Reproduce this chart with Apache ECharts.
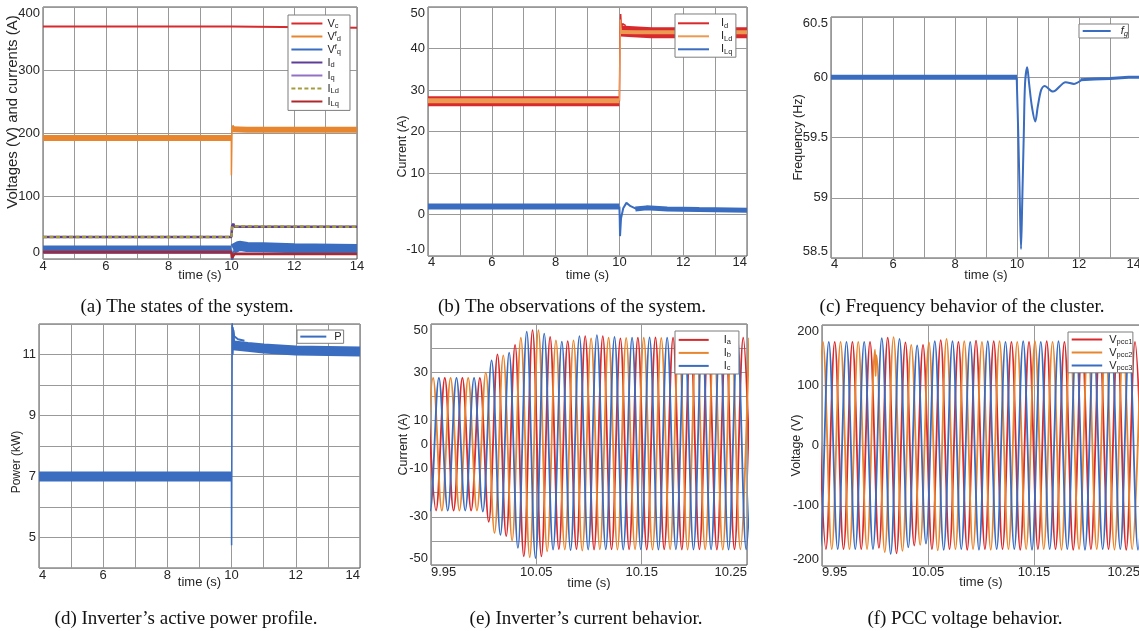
<!DOCTYPE html>
<html>
<head>
<meta charset="utf-8">
<script src="https://cdn.jsdelivr.net/npm/echarts@6/dist/echarts.min.js"></script>
<style>
html, body { margin: 0; padding: 0; background: #fff; }
#chart { width: 1139px; height: 631px; }
</style>
</head>
<body>
<div id="chart"></div>
<script>
// (a) states of the system, [time, value]
const aVc = [[4, 369], [10, 369], [10.03, 367], [14, 367]];
const aVdPre = [[4, 192], [10, 192]];
const aVdJump = [[9.998, 192], [10.0, 133], [10.02, 207], [10.05, 212], [10.1, 207], [10.2, 205]];
const aVdPost = [[10.03, 206], [10.5, 205], [14, 205]];
const aVqPre = [[4, 15], [10, 15]];
const aVqJump = [[10, 15], [10.02, -4], [10.08, 12], [10.2, 22]];
const aVqPost = [[10.05, 16], [10.25, 21], [10.5, 19], [11, 18.5], [12, 17], [14, 16]];
const aId = [[4, 35], [10, 35], [10.02, 52], [10.06, 56], [10.1, 51], [14, 51]];
const aIq = [[4, 9], [10, 9], [10.03, 4], [10.1, 9], [14, 9]];
const aILd = [[4, 35], [10, 35], [10.03, 52], [10.08, 51], [14, 51]];
const aILq = [[4, 11], [10, 11], [10.02, 2], [10.1, 8], [14, 8]];

// (b) observations
const bIdPre = [[4, 27.3], [10, 27.3]];
const bIdJump = [[10, 27.3], [10.02, 44], [10.04, 48.3], [10.06, 45], [10.1, 46], [10.2, 45.5]];
const bIdPost = [[10.05, 44.2], [10.3, 44.1], [11, 43.8], [14, 43.8]];
const bILdPre = [[4, 27.4], [10, 27.4]];
const bILdJump = [[10, 27.4], [10.01, 33], [10.03, 47], [10.06, 44]];
const bILdPost = [[10.05, 44], [10.5, 43.9], [14, 43.9]];
const bILqPre = [[4, 1.9], [10, 1.9]];
const bILqJump = [[10, 1.9], [10.01, -1], [10.02, -5.2], [10.05, -1], [10.12, 1.5], [10.22, 2.8], [10.35, 2.0], [10.55, 1.3], [10.85, 1.65], [11.2, 1.4]];
const bILqPost = [[10.5, 1.3], [10.85, 1.6], [11.5, 1.35], [12.5, 1.2], [14, 1.0]];

// (c) frequency
const cFgPre = [[4, 60.0], [10, 60.0]];
const cFgDip = [[9.99, 60.0], [10.04, 59.54], [10.09, 58.98], [10.13, 58.575], [10.17, 58.98], [10.22, 59.54], [10.26, 59.95], [10.33, 60.083], [10.39, 59.95], [10.48, 59.757], [10.59, 59.633], [10.67, 59.757], [10.78, 59.895], [10.89, 59.928], [11.16, 59.881], [11.57, 59.959], [11.84, 59.945], [12.11, 59.983]];
const cFgPost = [[12.05, 59.98], [12.5, 59.985], [13, 59.99], [13.6, 60.0], [14, 60.0]];

// (d) active power
const dPPre = [[4, 7.0], [10, 7.0]];
const dPJump = [[9.995, 7.0], [10.0, 4.75], [10.02, 12.05], [10.04, 11.0], [10.06, 11.8], [10.1, 11.2], [10.15, 11.4]];
const dPTop = [[10.03, 11.9], [10.08, 11.6], [10.2, 11.5], [10.4, 11.45]];
const dPPost = [[10.05, 11.3], [10.5, 11.25], [11, 11.2], [12, 11.13], [14, 11.1]];

// (e) inverter currents, peaks and troughs
const eIa = [[9.9464, 27.6], [9.9548, -27.4], [9.9631, 27.6], [9.9714, -27.4], [9.9798, 27.6], [9.9881, -27.4], [9.9964, 27.6], [10.0048, -32.1], [10.0131, 37.4], [10.0214, -38.0], [10.0298, 41.3], [10.0381, -46.4], [10.0464, 47.5], [10.0548, -46.4], [10.0631, 44.6], [10.0714, -43.4], [10.0798, 42.9], [10.0881, -43.4], [10.0964, 45.0], [10.1048, -43.6], [10.1131, 45.0], [10.1214, -43.5], [10.1298, 44.0], [10.1381, -43.5], [10.1464, 44.3], [10.1548, -43.6], [10.1631, 44.4], [10.1714, -43.5], [10.1798, 44.3], [10.1881, -43.6], [10.1964, 44.2], [10.2048, -43.5], [10.2131, 44.3], [10.2214, -43.6], [10.2298, 44.2], [10.2381, -43.5], [10.2464, 44.3], [10.2548, -43.6]];
const eIb = [[9.9436, -27.4], [9.9520, 27.6], [9.9603, -27.4], [9.9686, 27.6], [9.9770, -27.4], [9.9853, 27.6], [9.9936, -27.4], [10.0020, 29.8], [10.0103, -36.7], [10.0186, 37.0], [10.0270, -39.9], [10.0353, 44.3], [10.0437, -46.8], [10.0520, 47.4], [10.0603, -44.3], [10.0686, 43.2], [10.0770, -43.6], [10.0853, 43.2], [10.0936, -44.0], [10.1020, 44.0], [10.1103, -43.5], [10.1186, 44.3], [10.1270, -43.6], [10.1353, 44.2], [10.1437, -43.5], [10.1520, 44.3], [10.1603, -43.6], [10.1686, 44.2], [10.1770, -43.5], [10.1853, 44.3], [10.1936, -43.6], [10.2020, 44.2], [10.2103, -43.5], [10.2186, 44.3], [10.2270, -43.6], [10.2353, 44.2], [10.2437, -43.5], [10.2520, 44.3]];
const eIc = [[9.9409, 27.6], [9.9492, -27.4], [9.9575, 27.6], [9.9659, -27.4], [9.9742, 27.6], [9.9825, -27.4], [9.9909, 27.6], [9.9992, -27.8], [10.0075, 34.9], [10.0159, -37.5], [10.0242, 38.1], [10.0325, -42.9], [10.0409, 46.8], [10.0492, -47.1], [10.0575, 46.0], [10.0659, -43.6], [10.0742, 42.7], [10.0825, -43.8], [10.0909, 45.0], [10.0992, -43.6], [10.1075, 45.4], [10.1159, -43.5], [10.1242, 44.6], [10.1325, -43.6], [10.1409, 44.3], [10.1492, -43.5], [10.1575, 44.4], [10.1659, -43.6], [10.1742, 44.3], [10.1825, -43.5], [10.1909, 44.2], [10.1992, -43.6], [10.2075, 44.3], [10.2159, -43.5], [10.2242, 44.2], [10.2325, -43.6], [10.2409, 44.3], [10.2492, -43.5], [10.2575, 44.2]];

// (f) PCC voltages, peaks and troughs
const fV1 = [[9.9453, 172], [9.9537, -172], [9.9620, 172], [9.9703, -172], [9.9787, 172], [9.9870, -172], [9.9953, 172], [10.0037, -170], [10.0120, 179], [10.0203, -179], [10.0287, 171], [10.0370, -166], [10.0453, 167], [10.0537, -172], [10.0620, 175], [10.0703, -172], [10.0787, 172], [10.0870, -173], [10.0953, 174], [10.1037, -172], [10.1120, 173], [10.1203, -172], [10.1287, 172], [10.1370, -173], [10.1453, 172], [10.1537, -172], [10.1620, 173], [10.1703, -172], [10.1787, 172], [10.1870, -173], [10.1953, 172], [10.2037, -172], [10.2120, 173], [10.2203, -172], [10.2287, 172], [10.2370, -173], [10.2453, 172], [10.2537, -172]];
const fV2 = [[9.9425, -172], [9.9509, 172], [9.9592, -172], [9.9675, 172], [9.9759, -172], [9.9842, 172], [9.9925, -172], [10.0000, 159], [10.0006, 115], [10.0013, 150], [10.0092, -177], [10.0175, 180], [10.0259, -175], [10.0342, 167], [10.0426, -165], [10.0509, 171], [10.0592, -174], [10.0675, 177], [10.0759, -172], [10.0842, 173], [10.0925, -172], [10.1009, 172], [10.1092, -173], [10.1175, 173], [10.1259, -172], [10.1342, 172], [10.1426, -172], [10.1509, 173], [10.1592, -172], [10.1675, 172], [10.1759, -173], [10.1842, 172], [10.1925, -172], [10.2009, 173], [10.2092, -172], [10.2175, 172], [10.2259, -173], [10.2342, 172], [10.2426, -172], [10.2509, 173]];
const fV3 = [[9.9398, 172], [9.9481, -172], [9.9564, 172], [9.9648, -172], [9.9731, 172], [9.9814, -172], [9.9898, 172], [9.9981, -172], [10.0064, 178], [10.0148, -180], [10.0231, 177], [10.0314, -169], [10.0398, 166], [10.0481, -163], [10.0564, 173], [10.0648, -173], [10.0731, 173], [10.0814, -172], [10.0898, 172], [10.0981, -173], [10.1064, 173], [10.1148, -172], [10.1231, 172], [10.1314, -172], [10.1398, 173], [10.1481, -173], [10.1564, 172], [10.1648, -172], [10.1731, 173], [10.1814, -172], [10.1898, 172], [10.1981, -173], [10.2064, 172], [10.2148, -172], [10.2231, 173], [10.2314, -172], [10.2398, 172], [10.2481, -173], [10.2564, 172]];

const captions = [
  '(a) The states of the system.', '(b) The observations of the system.', '(c) Frequency behavior of the cluster.',
  '(d) Inverter\u2019s active power profile.', '(e) Inverter\u2019s current behavior.', '(f) PCC voltage behavior.'
];

const SANS = '"Liberation Sans", Arial, Helvetica, sans-serif';
const SERIF = '"Liberation Serif", "Times New Roman", serif';
const INK = '#262626';
const GRIDC = '#999999';
const RED = '#d8292c', ORANGE = '#e8852f', LORANGE = '#ec9a52', BLUE = '#3a6cc0';
const PURPLE = '#5e3c99', LPURPLE = '#9270c4', OLIVE = '#a39b3c', DRED = '#b0262a';

const LABELS = {
  'a:Vc': 'V{s|c}', 'a:Vd': 'V{p|f}{s|d}', 'a:Vq': 'V{p|f}{s|q}', 'a:Id': 'I{s|d}', 'a:Iq': 'I{s|q}',
  'a:ILd': 'I{s|Ld}', 'a:ILq': 'I{s|Lq}',
  'b:Id': 'I{s|d}', 'b:ILd': 'I{s|Ld}', 'b:ILq': 'I{s|Lq}',
  'c:fg': '{i|f}{si|g}', 'd:P': 'P',
  'e:Ia': 'I{s|a}', 'e:Ib': 'I{s|b}', 'e:Ic': 'I{s|c}',
  'f:V1': 'V{s|pcc1}', 'f:V2': 'V{s|pcc2}', 'f:V3': 'V{s|pcc3}'
};

const grids = [
  [43, 7, 314, 252], [428, 7, 319, 249], [831, 17, 310, 241],
  [39, 324, 321, 244], [431, 324, 316, 241], [822, 325, 318, 241]
].map(g => ({left: g[0], top: g[1], width: g[2], height: g[3], show: true,
  borderColor: '#555555', borderWidth: 1, containLabel: false, outerBoundsMode: 'none'}));

function xAxisOf(gi, o) {
  return {
    type: 'value', gridIndex: gi, min: o.min, max: o.max, interval: o.interval,
    name: 'time (s)', nameLocation: 'middle', nameGap: o.nameGap, nameMoveOverlap: false,
    nameTextStyle: {fontFamily: SANS, fontSize: 13, color: INK},
    axisLine: {show: false}, axisTick: {show: false},
    splitLine: {show: true, lineStyle: {color: GRIDC, width: 1}},
    axisLabel: {
      fontFamily: SANS, fontSize: 13, color: INK, margin: o.margin, formatter: o.fmt,
      showMinLabel: true, showMaxLabel: true,
      alignMinLabel: o.edge ? 'left' : null, alignMaxLabel: o.edge ? 'right' : null
    }
  };
}

function yAxisOf(gi, o) {
  return {
    type: 'value', gridIndex: gi, min: o.min, max: o.max, interval: o.interval,
    name: o.name, nameLocation: 'middle', nameGap: o.nameGap, nameMoveOverlap: false,
    nameTextStyle: {fontFamily: SANS, fontSize: o.nameSize, color: INK, padding: o.namePad || 0},
    axisLine: {show: false}, axisTick: {show: false},
    splitLine: {show: true, lineStyle: {color: GRIDC, width: 1}},
    axisLabel: {
      fontFamily: SANS, fontSize: 13, color: INK, margin: 3, formatter: o.fmt,
      showMinLabel: true, showMaxLabel: true,
      verticalAlignMinLabel: o.edge ? 'bottom' : null, verticalAlignMaxLabel: o.edge ? 'top' : null
    }
  };
}

const evenOnly = v => (Math.round(v) % 2 === 0 ? String(Math.round(v)) : '');
const plain = v => String(+v.toFixed(2));
const fixed2 = v => v.toFixed(2);

const xAxes = [
  xAxisOf(0, {min: 4, max: 14, interval: 1, fmt: evenOnly, nameGap: 10, margin: 1, edge: false}),
  xAxisOf(1, {min: 4, max: 14, interval: 1, fmt: evenOnly, nameGap: 13, margin: 0, edge: true}),
  xAxisOf(2, {min: 4, max: 14, interval: 1, fmt: evenOnly, nameGap: 10.5, margin: 0, edge: true}),
  xAxisOf(3, {min: 4, max: 14, interval: 1, fmt: evenOnly, nameGap: 8, margin: 1, edge: true}),
  xAxisOf(4, {min: 9.95, max: 10.25, interval: 0.1, fmt: fixed2, nameGap: 12, margin: 1, edge: true}),
  xAxisOf(5, {min: 9.95, max: 10.25, interval: 0.1, fmt: fixed2, nameGap: 10, margin: 0, edge: true})
];

const eShown = [50, 30, 10, 0, -10, -30, -50];
const yAxes = [
  yAxisOf(0, {min: 0, max: 400, interval: 100, fmt: plain, edge: true, name: 'Voltages (V) and currents (A)', nameSize: 15, nameGap: 22.5, namePad: [0, 0, 0, 42]}),
  yAxisOf(1, {min: -10, max: 50, interval: 10, fmt: plain, edge: true, name: 'Current (A)', nameSize: 12.5, nameGap: 18.5, namePad: [0, 30, 0, 0]}),
  yAxisOf(2, {min: 58.5, max: 60.5, interval: 0.5, fmt: plain, edge: true, name: 'Frequency (Hz)', nameSize: 12.5, nameGap: 26}),
  yAxisOf(3, {min: 4, max: 12, interval: 1, fmt: v => (Math.round(v) % 2 === 1 ? String(Math.round(v)) : ''), edge: false, name: 'Power (kW)', nameSize: 12, nameGap: 16, namePad: [0, 32, 0, 0]}),
  yAxisOf(4, {min: -50, max: 50, interval: 10, fmt: v => (eShown.indexOf(Math.round(v)) >= 0 ? String(Math.round(v)) : ''), edge: true, name: 'Current (A)', nameSize: 12.5, nameGap: 20.5}),
  yAxisOf(5, {min: -200, max: 200, interval: 100, fmt: plain, edge: true, name: 'Voltage (V)', nameSize: 12.5, nameGap: 18.5})
];

function line(name, gi, data, color, width, extra) {
  return Object.assign({
    type: 'line', name: name, xAxisIndex: gi, yAxisIndex: gi, data: data,
    symbol: 'none', showSymbol: false, silent: true, animation: false,
    lineStyle: {color: color, width: width}, itemStyle: {color: color},
    emphasis: {disabled: true}
  }, extra || {});
}
const wave = {smooth: 0.36};

const series = [
  line('a:Vc', 0, aVc, RED, 2),
  line('a:Vd', 0, aVdPre, ORANGE, 6),
  line('a:Vd', 0, aVdJump, ORANGE, 1.5),
  line('a:Vd', 0, aVdPost, ORANGE, 6),
  line('a:Vq', 0, aVqPre, BLUE, 8),
  line('a:Vq', 0, aVqJump, BLUE, 2),
  line('a:Vq', 0, aVqPost, BLUE, 10),
  line('a:Id', 0, aId, PURPLE, 2.5),
  line('a:Iq', 0, aIq, LPURPLE, 1.5, {z: 1}),
  line('a:ILd', 0, aILd, OLIVE, 2.5, {lineStyle: {color: OLIVE, width: 2.5, type: [4, 2.5]}}),
  line('a:ILq', 0, aILq, DRED, 2.5),

  line('b:Id', 1, bIdPre, RED, 10),
  line('b:Id', 1, bIdJump, RED, 1.5),
  line('b:Id', 1, bIdPost, RED, 11),
  line('b:ILd', 1, bILdPre, LORANGE, 5),
  line('b:ILd', 1, bILdJump, LORANGE, 1.5),
  line('b:ILd', 1, bILdPost, LORANGE, 4),
  line('b:ILq', 1, bILqPre, BLUE, 6),
  line('b:ILq', 1, bILqJump, BLUE, 2),
  line('b:ILq', 1, bILqPost, BLUE, 5),

  line('c:fg', 2, cFgPre, BLUE, 5),
  line('c:fg', 2, cFgDip, BLUE, 2, {smooth: 0.3}),
  line('c:fg', 2, cFgPost, BLUE, 3),

  line('d:P', 3, dPPre, BLUE, 10),
  line('d:P', 3, dPJump, BLUE, 1.5),
  line('d:P', 3, dPTop, BLUE, 2),
  line('d:P', 3, dPPost, BLUE, 10),

  line('e:Ia', 4, eIa, RED, 1.8, wave),
  line('e:Ib', 4, eIb, ORANGE, 1.8, wave),
  line('e:Ic', 4, eIc, BLUE, 1.8, wave),

  line('f:V1', 5, fV1, RED, 1.8, wave),
  line('f:V2', 5, fV2, ORANGE, 1.8, wave),
  line('f:V3', 5, fV3, BLUE, 1.8, wave)
];

function legendOf(names, o) {
  const lh = o.lh;
  const base = {fontFamily: SANS, color: INK};
  return {
    data: names, orient: 'vertical', left: o.left, top: o.top,
    itemWidth: o.itemWidth, itemHeight: lh, itemGap: 0, padding: o.padding,
    backgroundColor: '#fff', borderColor: '#7d7d7d', borderWidth: 1, borderRadius: 0,
    selectedMode: false, z: 10, lineStyle: {width: 2}, itemStyle: {opacity: 0, borderWidth: 0},
    formatter: n => '{g| }' + LABELS[n],
    textStyle: Object.assign({fontSize: 11, lineHeight: lh, rich: {
      g: Object.assign({width: o.gap, fontSize: 11, lineHeight: lh}, base),
      s: Object.assign({fontSize: 7.5, lineHeight: lh - 5, padding: [5, 0, 0, 0]}, base),
      p: Object.assign({fontSize: 7.5, lineHeight: lh - 5, padding: [0, 0, 5, 0]}, base),
      i: Object.assign({fontSize: 11, lineHeight: lh, fontStyle: 'italic'}, base),
      si: Object.assign({fontSize: 7.5, lineHeight: lh - 5, padding: [5, 0, 0, 0], fontStyle: 'italic'}, base)
    }}, base)
  };
}

const legends = [
  legendOf(['a:Vc', 'a:Vd', 'a:Vq', 'a:Id', 'a:Iq', 'a:ILd', 'a:ILq'], {left: 288, top: 15, itemWidth: 31, lh: 12.7, gap: 0, padding: [2, 9, 2.4, 2.4]}),
  legendOf(['b:Id', 'b:ILd', 'b:ILq'], {left: 675, top: 14, itemWidth: 31, lh: 11.7, gap: 7, padding: [2.8, 3.5, 1.4, 2]}),
  legendOf(['c:fg'], {left: 1079, top: 24, itemWidth: 28, lh: 11, gap: 5, padding: [0.5, 0.5, 0.5, 2.7]}),
  legendOf(['d:P'], {left: 297, top: 330, itemWidth: 26, lh: 12, gap: 3, padding: [0.6, 2, 0.7, 2.3]}),
  legendOf(['e:Ia', 'e:Ib', 'e:Ic'], {left: 675, top: 331, itemWidth: 30, lh: 12, gap: 10, padding: [2.4, 8, 1.6, 2.7]}),
  legendOf(['f:V1', 'f:V2', 'f:V3'], {left: 1068, top: 332, itemWidth: 30.5, lh: 12.5, gap: 2, padding: [1, 0.5, 0.8, 2.7]})
];

const capPos = [[187, 307], [572, 307], [962, 307], [186, 619], [586, 619], [965, 619]];
const graphic = captions.map((t, i) => ({
  type: 'text', x: capPos[i][0], y: capPos[i][1], silent: true,
  style: {text: t, font: '19px ' + SERIF, fill: '#111', align: 'center', verticalAlign: 'middle'}
}));

const chart = echarts.init(document.getElementById('chart'));
chart.setOption({
  animation: false,
  backgroundColor: '#fff',
  grid: grids,
  xAxis: xAxes,
  yAxis: yAxes,
  legend: legends,
  series: series,
  graphic: graphic
});
</script>
</body>
</html>
